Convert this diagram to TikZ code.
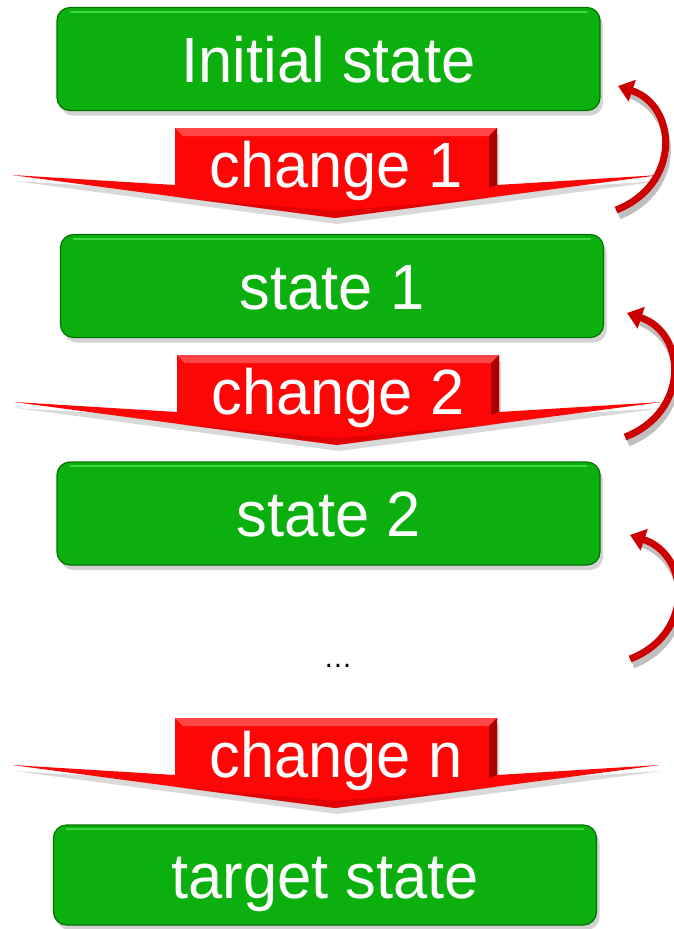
\documentclass[tikz,border=0pt]{standalone}
\usepackage{fontspec}
\setmainfont[FakeStretch=0.96]{Liberation Sans}
\usetikzlibrary{arrows.meta,shadows,calc}
\definecolor{boxgreen}{RGB}{12,176,14}
\definecolor{boxedge}{RGB}{0,115,0}
\definecolor{boxlight}{RGB}{60,215,60}
\definecolor{bannerred}{RGB}{255,6,6}
\definecolor{bannerlight}{RGB}{255,70,70}
\definecolor{bannerdark}{RGB}{170,0,0}
\definecolor{curvered}{RGB}{204,0,0}
\begin{document}
\begin{tikzpicture}[x=1pt,y=-1pt,
  bigfont/.style={font=\fontsize{64}{70}\selectfont},
  statebox/.style={draw=boxedge, line width=1.2pt, fill=boxgreen, rounded corners=13pt,
    minimum width=543pt, minimum height=103pt, inner sep=0pt, text=white, bigfont,
    text height=46pt, text depth=0pt,
    drop shadow={shadow xshift=3pt, shadow yshift=-5pt, opacity=0.35}},
  highlight/.style={draw=boxlight, line width=2pt, line cap=round},
  bannershape/.style={fill=bannerred, drop shadow={shadow xshift=2pt, shadow yshift=-6pt, opacity=0.3}},
  bevellight/.style={fill=bannerlight},
  beveldark/.style={fill=bannerdark},
  bannertext/.style={text=white, bigfont, inner sep=0pt, anchor=base},
  curvy/.style={draw=curvered, line width=7pt, -{Triangle[length=15pt,width=22pt]}},
  curvyshadow/.style={draw=black, opacity=0.25, line width=7pt}
]
\useasboundingbox (0,0) rectangle (673,929);

% change arrows
\newcommand\changearrow[3]{%
  \begin{scope}[shift={(#1)}]
    \fill[bannershape] (12,175) -- (175,185) -- (175,128) -- (497,128) -- (497,185)
      -- (660,175) -- (335,218) -- cycle;
    \fill[bevellight] (175,128) -- (497,128) -- (489,136) -- (183,136) -- cycle;
    \fill[beveldark] (497,128) -- (497,185) -- (489,188) -- (489,136) -- cycle;
    \fill[beveldark, opacity=0.35] (175,197) -- (335,218) -- (497,197) -- (335,211) -- cycle;
    \node[bannertext] (#2) at (336,187) {#3};
  \end{scope}}

\changearrow{0,0}{c1}{change 1}
\changearrow{2,227}{c2}{change 2}
\changearrow{0,590}{cn}{change n}

% state boxes
\node[statebox] (s0) at (328.5,59) {Initial state};
\node[statebox] (s1) at (332,286) {state 1};
\node[statebox] (s2) at (328.5,513.5) {state 2};
\node[statebox, minimum height=100pt] (st) at (325,875) {target state};
\foreach \b in {s0,s1,s2,st}{
  \draw[highlight] ($(\b.north west)+(14,5)$) -- ($(\b.north east)+(-14,5)$);
}

% ellipsis
\node[font=\fontsize{30}{34}\selectfont, inner sep=0pt] (dots) at (338,666) {\dots};

% curved arrows
\coordinate (a1s) at (616,210);
\coordinate (a1e) at (618,86);
\coordinate (a2s) at (625,437);
\coordinate (a2e) at (627,313);
\coordinate (a3s) at (630,659);
\coordinate (a3e) at (630,535);
\foreach \s/\e in {a1s/a1e,a2s/a2e,a3s/a3e}{
  \draw[curvyshadow] ($(\s)+(3,6)$) .. controls ($(\s)+(68,-20)$) and ($(\e)+(62,25)$) .. ($(\e)+(10,8)$);
  \draw[curvy] (\s) .. controls ($(\s)+(65,-25)$) and ($(\e)+(60,20)$) .. (\e);
}
\end{tikzpicture}
\end{document}
